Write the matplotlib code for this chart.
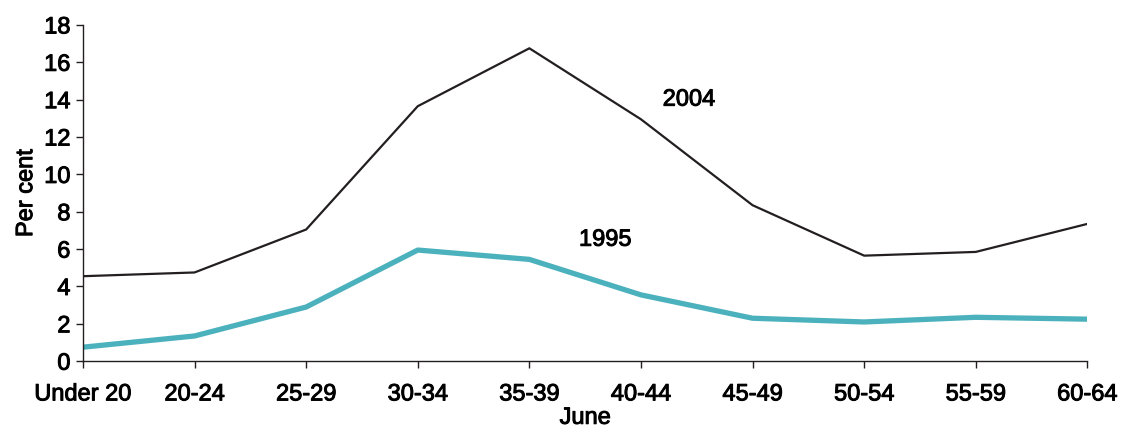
import matplotlib.pyplot as plt
import matplotlib.patheffects as pe

plt.rcParams['font.family'] = ['Liberation Sans', 'DejaVu Sans']

ages = ['Under 20', '20-24', '25-29', '30-34', '35-39', '40-44', '45-49', '50-54', '55-59', '60-64']
rate_2004 = [4.55, 4.75, 7.05, 13.65, 16.75, 12.95, 8.35, 5.65, 5.85, 7.35]
rate_1995 = [0.75, 1.35, 2.9, 5.95, 5.45, 3.55, 2.3, 2.1, 2.35, 2.25]

fig = plt.figure(figsize=(11.21, 4.30), dpi=100)
ax = fig.add_axes([0.074, 0.160, 0.896, 0.782])

x = range(len(ages))
ax.plot(x, rate_2004, color='#231f20', lw=1.6)
ax.plot(x, rate_1995, color='#4bb1bc', lw=3.8)

# slightly heavier than regular, like the medium face in the original
thick = [pe.withStroke(linewidth=0.7, foreground='black')]
fs = 17

ax.text(5.43, 14.0, '2004', fontsize=fs, ha='center', va='center', path_effects=thick)
ax.text(4.68, 6.5, '1995', fontsize=fs, ha='center', va='center', path_effects=thick)

ax.set_xlim(0, 9)
ax.set_ylim(0, 18)
ax.set_yticks(range(0, 19, 2))
ax.set_xticks(list(x))
ax.set_xticklabels(ages)
ax.tick_params(axis='both', labelsize=fs, length=5, width=1, colors='#231f20', labelcolor='black')
ax.tick_params(axis='x', pad=11)
ax.tick_params(axis='y', pad=4)
for lbl in ax.get_xticklabels() + ax.get_yticklabels():
    lbl.set_path_effects(thick)

for s in ['top', 'right']:
    ax.spines[s].set_visible(False)
for s in ['left', 'bottom']:
    ax.spines[s].set_color('#231f20')
    ax.spines[s].set_linewidth(1)

ax.set_ylabel('Per cent', fontsize=fs, labelpad=5, path_effects=thick)
ax.set_xlabel('June', fontsize=fs, labelpad=1, path_effects=thick)

fig.savefig('out.png', dpi=100)
